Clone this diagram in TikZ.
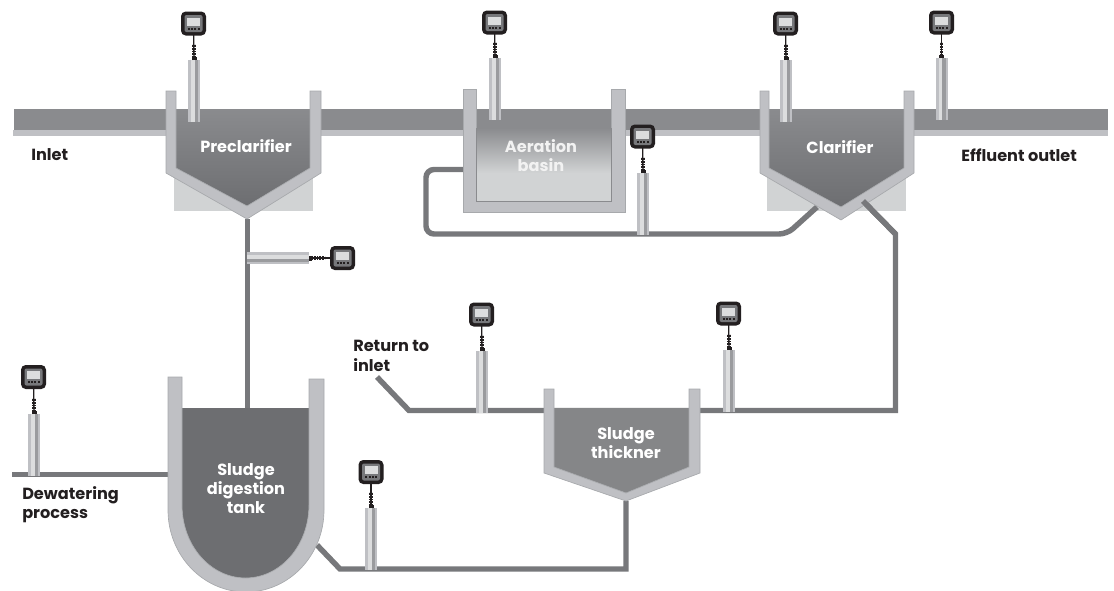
\documentclass[tikz,border=0pt]{standalone}
\usepackage{fontspec}
\setmainfont{Poppins}
\definecolor{chandark}{HTML}{8A8B8E}
\definecolor{chanlight}{HTML}{BFC0C4}
\definecolor{tankdark}{HTML}{6D6E71}
\definecolor{wallline}{HTML}{A7A9AC}
\definecolor{pipegray}{HTML}{77787B}
\definecolor{padgray}{HTML}{D1D3D4}
\definecolor{inkblack}{HTML}{231F20}
\definecolor{probedark}{HTML}{9A9B9E}
\definecolor{probelight}{HTML}{DCDDDE}
\tikzset{
  wall/.style={fill=chanlight,draw=wallline,line width=0.5pt},
  pipe/.style={draw=pipegray,line width=4.1pt},
  label/.style={font=\fontsize{12.1}{14.5}\selectfont\bfseries,text=inkblack,align=left,inner sep=0pt},
  tanklabel/.style={font=\fontsize{12.1}{14.2}\selectfont\bfseries,text=white,align=center,inner sep=0pt},
  pics/probe/.style={code={
    \fill[chanlight] (-6,0) rectangle (-3,62);
    \fill[probelight] (-3,0) rectangle (0.5,62);
    \fill[probedark] (0.5,0) rectangle (4,62);
    \fill[chanlight] (4,0) rectangle (6,62);
    \draw[inkblack,line width=2.8pt,dash pattern=on 0.8pt off 0.4pt] (0,0) -- (0,-16);
    \fill[inkblack] (-2.5,0) rectangle (2.5,-3);
  }},
  pics/meter/.style={code={
    \fill[inkblack,rounded corners=3.5pt] (-12.5,-12) rectangle (12.5,12);
    \fill[pipegray,rounded corners=1.5pt] (-9,-8.5) rectangle (9,8.5);
    \fill[probelight] (-6.5,-6) rectangle (6.5,2);
    \fill[inkblack] (-6,4) rectangle (-4,6);
    \fill[inkblack] (-2.5,4) rectangle (-0.5,6);
    \fill[inkblack] (0.5,4) rectangle (2.5,6);
    \fill[inkblack] (4,4) rectangle (6,6);
  }}
}
\begin{document}
\begin{tikzpicture}[x=0.75pt,y=-0.75pt]
        \clip (0,0) rectangle (1114,590);

        % meters
        \coordinate (M1) at (193.5,23.5);
        \coordinate (M2) at (494.5,22.5);
        \coordinate (M3) at (785.5,23.5);
        \coordinate (M4) at (941.5,22.5);
        \coordinate (M5) at (642.5,136.5);
        \coordinate (M6) at (342.5,258);
        \coordinate (M7) at (481.5,314.5);
        \coordinate (M8) at (728.5,313.5);
        \coordinate (M9) at (371,472);
        \coordinate (M10) at (33.5,377);

        % probe tops
        \coordinate (P1) at (194,60);
        \coordinate (P2) at (495,58);
        \coordinate (P3) at (786,60);
        \coordinate (P4) at (941.5,58);
        \coordinate (P5) at (643,173);
        \coordinate (P6) at (309,258);
        \coordinate (P7) at (482,351);
        \coordinate (P8) at (729,350);
        \coordinate (P9) at (371,508);
        \coordinate (P10) at (34,414);

        % pipe corners
        \coordinate (A1) at (463,169.5);
        \coordinate (A2) at (426,169.5);
        \coordinate (A3) at (426,234);
        \coordinate (A4) at (787,234);
        \coordinate (A5) at (817,207);
        \coordinate (B1) at (863,201);
        \coordinate (B2) at (895.5,234);
        \coordinate (B3) at (895.5,410.5);
        \coordinate (B4) at (544,410.5);
        \coordinate (C1) at (377,377);
        \coordinate (C2) at (409,410.5);
        \coordinate (D1) at (626,501);
        \coordinate (D2) at (626,569);
        \coordinate (D3) at (340,569);
        \coordinate (D4) at (317,545);
        \coordinate (E1) at (247.5,219);
        \coordinate (E2) at (247.5,408);
        \coordinate (F1) at (168,474.5);
        \coordinate (F2) at (12,474.5);

        % concrete pads
        \fill[padgray] (174,173) rectangle (313,211);
        \fill[padgray] (767,173) rectangle (906,211);

        % channel
        \fill[chandark] (14,109) rectangle (1108,130);
        \fill[chanlight] (13,130) rectangle (1108,136);

        % pipes
        \draw[pipe,rounded corners=6pt] (A1) -- (A2) -- (A3) -- (A4) -- (A5);
        \draw[pipe] (B1) -- (B2) -- (B3) -- (B4);
        \draw[pipe] (C1) -- (C2) -- (B4);
        \draw[pipe] (D1) -- (D2) -- (D3) -- (D4);
        \draw[pipe] (E1) -- (E2);
        \draw[pipe] (F1) -- (F2);

        % preclarifier
        \shade[top color=chandark,bottom color=tankdark] (176,109) -- (310,109) -- (310,168) -- (247,206) -- (176,168) -- cycle;
        \draw[wall] (166,91) -- (176,91) -- (176,168) -- (247,206) -- (310,168) -- (310,91) -- (321,91) -- (321,173) -- (247,219) -- (166,173) -- cycle;

        % aeration basin
        \fill[chandark] (476,109) rectangle (611,128);
        \shade[top color=chandark,bottom color=padgray] (476,128) rectangle (611,173);
        \fill[padgray] (476,173) rectangle (611,201);
        \draw[wall] (463,89) -- (476,89) -- (476,201) -- (611,201) -- (611,89) -- (625,89) -- (625,212) -- (463,212) -- cycle;
        \draw[chandark,line width=0.5pt] (476,128) -- (476,201) -- (611,201) -- (611,128);

        % clarifier
        \shade[top color=chandark,bottom color=tankdark] (769,109) -- (904,109) -- (904,168) -- (841,207) -- (769,168) -- cycle;
        \draw[wall] (760,91) -- (769,91) -- (769,168) -- (841,207) -- (904,168) -- (904,91) -- (914,91) -- (914,173) -- (841,220) -- (760,173) -- cycle;
        \draw[pipe] (B1) -- (B2);

        % sludge thickner
        \fill[pipegray!90!white] (554,408) -- (689,408) -- (689,467) -- (626,493) -- (554,467) -- cycle;
        \draw[wall] (544,389) -- (554,389) -- (554,467) -- (626,493) -- (689,467) -- (689,389) -- (700,389) -- (700,473) -- (626,501) -- (544,473) -- cycle;

        % sludge digestion tank
        \fill[tankdark] (182,408) -- (309,408) -- (309,505) arc (0:180:63.5 and 73) -- cycle;
        \draw[wall] (168,377) -- (182,377) -- (182,505) arc (180:0:63.5 and 73) -- (309,379) -- (324,379) -- (324,510) arc (0:180:78 and 82) -- cycle;

        % cables
        \draw[inkblack,line width=1pt] (M1) -- (P1);
        \draw[inkblack,line width=1pt] (M2) -- (P2);
        \draw[inkblack,line width=1pt] (M3) -- (P3);
        \draw[inkblack,line width=1pt] (M4) -- (P4);
        \draw[inkblack,line width=1pt] (M5) -- (P5);
        \draw[inkblack,line width=1pt] (M6) -- (P6);
        \draw[inkblack,line width=1pt] (M7) -- (P7);
        \draw[inkblack,line width=1pt] (M8) -- (P8);
        \draw[inkblack,line width=1pt] (M9) -- (P9);
        \draw[inkblack,line width=1pt] (M10) -- (P10);

        \pic at (P1) {probe};
        \pic at (P2) {probe};
        \pic at (P3) {probe};
        \pic at (P4) {probe};
        \pic at (P5) {probe};
        \pic[rotate=-90] at (P6) {probe};
        \pic at (P7) {probe};
        \pic at (P8) {probe};
        \pic at (P9) {probe};
        \pic at (P10) {probe};

        \pic at (M1) {meter};
        \pic at (M2) {meter};
        \pic at (M3) {meter};
        \pic at (M4) {meter};
        \pic at (M5) {meter};
        \pic at (M6) {meter};
        \pic at (M7) {meter};
        \pic at (M8) {meter};
        \pic at (M9) {meter};
        \pic at (M10) {meter};

        % labels
        \node[label,anchor=west] (inlet) at (31,155) {Inlet};
        \node[label,anchor=west] (outlet) at (961,155) {Effluent outlet};
        \node[label,anchor=west] (return) at (353,356) {Return to\\inlet};
        \node[label,anchor=west] (dewater) at (22,505) {Dewatering\\process};
        \node[tanklabel] (preclar) at (246,146) {Preclarifier};
        \node[tanklabel,text=white!90!gray] (aeration) at (541,156) {Aeration\\basin};
        \node[tanklabel] (clar) at (840,147) {Clarifier};
        \node[tanklabel] (thick) at (626,443) {Sludge\\thickner};
        \node[tanklabel] (digest) at (246,489) {Sludge\\digestion\\tank};
    \end{tikzpicture}
\end{document}
